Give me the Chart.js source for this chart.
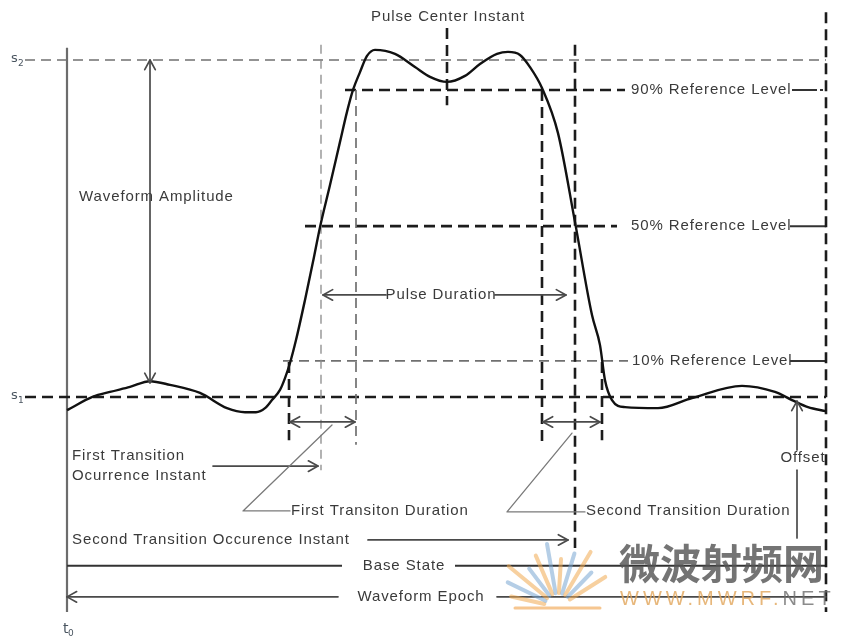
<!DOCTYPE html>
<html><head><meta charset="utf-8">
<script src="https://cdn.jsdelivr.net/npm/chart.js@4"></script>
<style>html,body{margin:0;padding:0;background:#fff;overflow:hidden}#wrap{width:849px;height:639px;position:relative}</style>
</head><body><div id="wrap"><canvas id="c"></canvas></div>
<script>
// Waveform samples: time (diagram units) and level (% of amplitude, s1 = 0, s2 = 100)
const waveTime  = [67, 93, 110, 130, 150, 170, 200, 227, 245, 256, 265, 272, 280, 285, 290, 296, 305, 313, 320, 330, 340, 347, 353, 360, 367, 375, 395, 415, 430, 447, 465, 480, 497, 508, 520, 530, 542, 558, 575, 592, 600, 605, 612, 625, 658, 692, 742, 775, 792, 808, 826];
const waveLevel = [-3.9, 0.1, 1.5, 3.0, 4.7, 3.6, 1.2, -3.3, -4.5, -4.5, -3.3, -0.9, 2.1, 5.6, 10.1, 16.9, 28.8, 40.1, 50.4, 62.9, 75.7, 84.6, 91.1, 96.4, 101.2, 103.0, 101.8, 97.9, 95.0, 93.5, 95.3, 98.8, 101.8, 102.4, 101.5, 97.9, 91.7, 78.3, 51.9, 24.3, 15.4, 5.0, -0.9, -3.0, -3.3, -0.3, 3.3, 1.5, -0.9, -3.0, -4.2];

// State levels
const stateNames  = ['s', 's'];
const stateSubs   = ['1', '2'];
const stateLevels = [0, 100];

// Reference levels
const refNames  = ['90% Reference Level', '50% Reference Level', '10% Reference Level'];
const refLevels = [91.1, 50.7, 10.7];

// Key instants
const epochStart = 67;     // t0
const epochEnd   = 826;
const firstTransition  = [289, 321, 356];   // 10%, 50%, 90% crossings
const secondTransition = [542, 575, 602];   // 90%, 50%, 10% crossings
const pulseCenter = 447;

// Vertical dashed markers: [time, fromLevel, toLevel, kind]
const vMarks = [
  [firstTransition[0], 10.4, -12.8, 'heavy'],
  [firstTransition[1], 104.5, -21.7, 'thin'],
  [firstTransition[2], 91.1, -14.2, 'light'],
  [pulseCenter, 109.5, 86.6, 'heavy'],
  [secondTransition[0], 91.1, -14.2, 'heavy'],
  [secondTransition[1], 104.5, -44.8, 'heavy'],
  [secondTransition[2], 10.4, -12.8, 'heavy'],
  [epochEnd, 114.2, -63.8, 'heavy']
];

// Horizontal lines: [level, fromTime, toTime, kind]
const hMarks = [
  [stateLevels[1], 25, 826, 'light'],
  [stateLevels[0], 25, 826, 'heavy'],
  [refLevels[0], 345, 625, 'heavy'],
  [refLevels[0], 792, 817, 'solid'],
  [refLevels[1], 305, 617, 'heavy'],
  [refLevels[1], 790, 826, 'solid'],
  [refLevels[2], 283, 628, 'light'],
  [refLevels[2], 790, 826, 'solid'],
  [-50.1, 67, 342, 'solid'],
  [-50.1, 455, 826, 'solid']
];

// Arrows: [t1, l1, t2, l2, heads]  heads: 'end' | 'start' | 'both' | 'none'
const arrows = [
  [150, 4.2, 150, 100, 'both'],
  [323, 30.3, 386, 30.3, 'start'],
  [495, 30.3, 566, 30.3, 'end'],
  [290, -7.4, 355, -7.4, 'both'],
  [543, -7.4, 600, -7.4, 'both'],
  [213, -20.5, 318, -20.5, 'end'],
  [368, -42.4, 568, -42.4, 'end'],
  [338, -59.3, 67, -59.3, 'end'],
  [497, -59.3, 826, -59.3, 'none'],
  [797, -15.7, 797, -1.2, 'end'],
  [797, -21.7, 797, -41.8, 'none']
];

// Leader lines (polylines of [time, level])
const leaders = [
  [[290, -33.8], [243, -33.8], [332, -8.3]],
  [[585, -34.1], [507, -34.1], [572, -10.7]]
];

// Text labels: [text, time, level, align]
const labels = [
  ['Pulse Center Instant', 448, 112.8, 'center'],
  ['Waveform Amplitude', 79, 59.3, 'left'],
  [refNames[0], 631, refLevels[0], 'left'],
  [refNames[1], 631, refLevels[1], 'left'],
  [refNames[2], 632, refLevels[2], 'left'],
  ['Pulse Duration', 441, 30.3, 'center'],
  ['First Transition', 72, -17.5, 'left'],
  ['Ocurrence Instant', 72, -23.4, 'left'],
  ['First Transiton Duration', 291, -33.8, 'left'],
  ['Second Transition Duration', 586, -33.8, 'left'],
  ['Second Transition Occurence Instant', 72, -42.4, 'left'],
  ['Base State', 404, -50.1, 'center'],
  ['Waveform Epoch', 421, -59.3, 'center'],
  ['Offset', 803, -18.1, 'center']
];

const lineKinds = {
  heavy: {color: '#1c1c1c', width: 2.6, dash: [11, 6]},
  light: {color: '#707070', width: 1.7, dash: [10, 6]},
  thin:  {color: '#8a8a8a', width: 1.3, dash: [9, 6]},
  solid: {color: '#333333', width: 2.0, dash: []}
};

const diagram = {
  id: 'diagram',
  beforeDatasetsDraw(chart) {
    const ctx = chart.ctx, X = v => chart.scales.x.getPixelForValue(v), Y = v => chart.scales.y.getPixelForValue(v);
    ctx.save();
    ctx.lineCap = 'butt';
    // t0 solid line
    ctx.strokeStyle = '#6c6c6c'; ctx.lineWidth = 2.2; ctx.setLineDash([]);
    ctx.beginPath(); ctx.moveTo(X(epochStart), Y(103.6)); ctx.lineTo(X(epochStart), Y(-63.8)); ctx.stroke();
    const seg = (x1, y1, x2, y2, kind) => {
      const k = lineKinds[kind];
      ctx.strokeStyle = k.color; ctx.lineWidth = k.width; ctx.setLineDash(k.dash);
      ctx.beginPath(); ctx.moveTo(x1, y1); ctx.lineTo(x2, y2); ctx.stroke();
    };
    hMarks.forEach(h => seg(X(h[1]), Y(h[0]), X(h[2]), Y(h[0]), h[3]));
    vMarks.forEach(v => seg(X(v[0]), Y(v[1]), X(v[0]), Y(v[2]), v[3]));
    // small dot after 90% label
    ctx.fillStyle = '#333'; ctx.fillRect(X(820), Y(refLevels[0]) - 1, 3, 2);
    ctx.restore();
  },
  afterDatasetsDraw(chart) {
    const ctx = chart.ctx, X = v => chart.scales.x.getPixelForValue(v), Y = v => chart.scales.y.getPixelForValue(v);
    ctx.save();
    ctx.setLineDash([]);
    const head = (x, y, ang) => {
      const s = 11, a = 0.5;
      ctx.beginPath();
      ctx.moveTo(x - s * Math.cos(ang - a), y - s * Math.sin(ang - a));
      ctx.lineTo(x, y);
      ctx.lineTo(x - s * Math.cos(ang + a), y - s * Math.sin(ang + a));
      ctx.stroke();
    };
    ctx.strokeStyle = '#4a4a4a'; ctx.lineWidth = 1.7; ctx.lineCap = 'round'; ctx.lineJoin = 'round';
    arrows.forEach(a => {
      const x1 = X(a[0]), y1 = Y(a[1]), x2 = X(a[2]), y2 = Y(a[3]);
      ctx.beginPath(); ctx.moveTo(x1, y1); ctx.lineTo(x2, y2); ctx.stroke();
      const ang = Math.atan2(y2 - y1, x2 - x1);
      if (a[4] === 'end' || a[4] === 'both') head(x2, y2, ang);
      if (a[4] === 'start' || a[4] === 'both') head(x1, y1, ang + Math.PI);
    });
    ctx.strokeStyle = '#7a7a7a'; ctx.lineWidth = 1.3;
    leaders.forEach(p => {
      ctx.beginPath(); ctx.moveTo(X(p[0][0]), Y(p[0][1]));
      for (let i = 1; i < p.length; i++) ctx.lineTo(X(p[i][0]), Y(p[i][1]));
      ctx.stroke();
    });
    // text labels
    ctx.fillStyle = '#3a3a3a';
    ctx.font = '15px "Liberation Sans", Arial, sans-serif';
    ctx.textBaseline = 'middle';
    try { ctx.letterSpacing = '0.9px'; } catch (e) {}
    labels.forEach(l => { ctx.textAlign = l[3]; ctx.fillText(l[0], X(l[1]), Y(l[2])); });
    try { ctx.letterSpacing = '0px'; } catch (e) {}
    // state labels and t0
    ctx.fillStyle = '#4a5560';
    ctx.textAlign = 'left';
    stateLevels.forEach((lv, i) => {
      ctx.font = '13px "DejaVu Sans", sans-serif';
      ctx.fillText(stateNames[i], X(11), Y(lv) - 1);
      ctx.font = '9px "DejaVu Sans", sans-serif';
      ctx.fillText(stateSubs[i], X(18), Y(lv) + 4);
    });
    ctx.font = '14px "DejaVu Sans", sans-serif';
    ctx.fillText('t', X(63), Y(-69.1) - 1);
    ctx.font = '9px "DejaVu Sans", sans-serif';
    ctx.fillText('0', X(68), Y(-69.1) + 4);
    // watermark
    const cx = X(558), cy = Y(-62.3);
    ctx.lineCap = 'round';
    for (let i = 0; i < 11; i++) {
      const ang = Math.PI * (0.93 - i * 0.075);
      const r1 = 14, r2 = 48 + (i % 3) * 8;
      ctx.strokeStyle = i % 2 ? 'rgba(120,165,210,0.55)' : 'rgba(240,170,80,0.55)';
      ctx.lineWidth = 4;
      ctx.beginPath();
      ctx.moveTo(cx + r1 * Math.cos(ang), cy - r1 * Math.sin(ang));
      ctx.lineTo(cx + r2 * Math.cos(ang), cy - r2 * Math.sin(ang));
      ctx.stroke();
    }
    ctx.strokeStyle = 'rgba(240,160,70,0.6)'; ctx.lineWidth = 3;
    ctx.beginPath(); ctx.moveTo(X(515), cy + 1); ctx.lineTo(X(600), cy + 1); ctx.stroke();
    ctx.font = 'bold 41px "Noto Sans CJK SC", sans-serif';
    ctx.fillStyle = 'rgba(85,85,85,0.82)';
    ctx.textAlign = 'left';
    ctx.fillText('微波射频网', X(619), Y(-49.3));
    ctx.font = '20px "Liberation Sans", sans-serif';
    try { ctx.letterSpacing = '4px'; } catch (e) {}
    ctx.fillStyle = 'rgba(225,165,90,0.8)';
    ctx.fillText('WWW.MWRF.', X(620), Y(-60.2));
    const w = ctx.measureText('WWW.MWRF.').width;
    ctx.fillStyle = 'rgba(110,110,110,0.8)';
    ctx.fillText('NET', X(620) + w, Y(-60.2));
    ctx.restore();
  }
};

new Chart(document.getElementById('c'), {
  type: 'scatter',
  data: {
    datasets: [{
      label: 'Waveform',
      data: waveTime.map((t, i) => ({x: t, y: waveLevel[i]})),
      showLine: true,
      borderColor: '#111',
      borderWidth: 2.4,
      pointRadius: 0,
      cubicInterpolationMode: 'monotone'
    }]
  },
  options: {
    responsive: true,
    maintainAspectRatio: false,
    animation: false,
    layout: {padding: 0},
    plugins: {legend: {display: false}, tooltip: {enabled: false}},
    scales: {
      x: {type: 'linear', display: false, min: 0, max: 849},
      y: {type: 'linear', display: false, min: -71.8, max: 117.8}
    }
  },
  plugins: [diagram]
});
</script>
</body></html>
